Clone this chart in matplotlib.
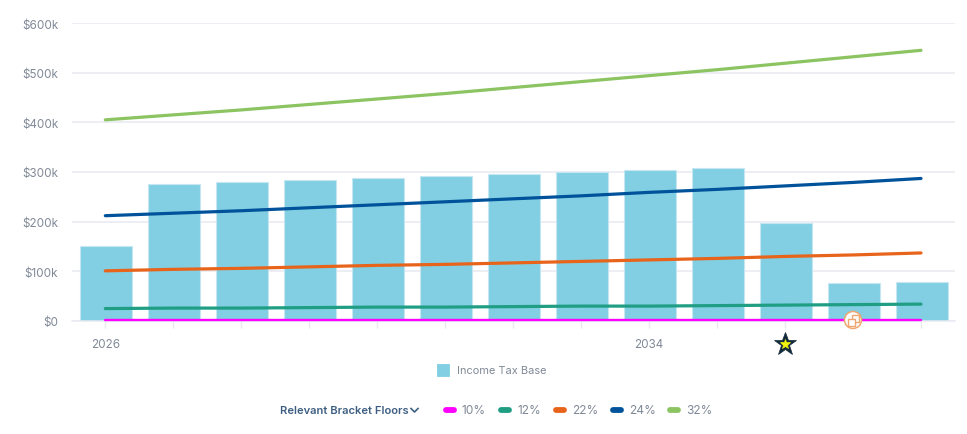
import matplotlib
matplotlib.use('Agg')
import matplotlib.pyplot as plt
from matplotlib.lines import Line2D
from matplotlib.patches import FancyBboxPatch, Circle, Rectangle

plt.rcParams['font.family'] = ['Inter', 'DejaVu Sans']

years = list(range(2026, 2039))
tax_base = [152, 275, 279, 283, 288, 292, 296, 301, 305, 309, 197, 76, 78]
floor_10 = [1.5, 1.5, 1.5, 1.5, 1.5, 1.5, 1.5, 1.5, 1.5, 1.5, 1.5, 1.5, 1.5]
floor_12 = [25, 26, 26, 27, 28, 28, 29, 30, 30, 31, 32, 33, 34]
floor_22 = [101, 104, 106, 109, 112, 114, 117, 120, 123, 126, 130, 133, 137]
floor_24 = [212, 217, 222, 228, 234, 240, 246, 252, 259, 265, 272, 279, 287]
floor_32 = [405, 415, 425, 436, 447, 458, 470, 482, 494, 506, 519, 532, 545]
y_ticks = [0, 100, 200, 300, 400, 500, 600]
y_labels = ['$0', '$100k', '$200k', '$300k', '$400k', '$500k', '$600k']
x_labels = {2026: '2026', 2034: '2034'}

series = [
    ('10%', floor_10, '#ff00ff', 1.7),
    ('12%', floor_12, '#1f9e84', 2.3),
    ('22%', floor_22, '#e8641b', 2.3),
    ('24%', floor_24, '#00539b', 2.3),
    ('32%', floor_32, '#8cc462', 2.3),
]

W, H = 967, 435
grey = '#808997'
fig = plt.figure(figsize=(W / 100, H / 100), dpi=100)
ax = fig.add_axes([72 / W, 1 - 322 / H, (955 - 72) / W, (322 - 24) / H])


def fx(x):
    return x / W


def fy(y):
    return 1 - y / H


ax.set_xlim(2025.51, 2038.5)
ax.set_ylim(0, 600)
ax.grid(axis='y', color='#e8eaf1', lw=1.1, zorder=0)
ax.set_axisbelow(True)
for s in ['top', 'left', 'right']:
    ax.spines[s].set_visible(False)
ax.spines['bottom'].set_color('#e8eaf1')
ax.spines['bottom'].set_linewidth(1.1)

# bars sit about a pixel right of the ticks in the original
ax.bar([y + 0.015 for y in years], tax_base, width=0.76, color='#82cfe3', edgecolor='#c4e7f1', lw=0.8, zorder=2)
for name, vals, col, lw in series:
    ax.plot(years, vals, color=col, lw=lw, solid_capstyle='round', zorder=3, clip_on=False)

ax.set_yticks(y_ticks)
ax.set_yticklabels(y_labels, color=grey, fontsize=8.4)
ax.set_xticks(years)
ax.set_xticklabels([x_labels.get(y, '') for y in years], color=grey, fontsize=8.4)
ax.tick_params(axis='y', length=0, pad=10)
ax.tick_params(axis='x', length=5, width=1, color='#e8eaf1', pad=7)

# legend for the bars
fig.add_artist(FancyBboxPatch((436.5 / W, fy(376.5)), 12 / W, 12 / H, boxstyle='square,pad=0',
                              transform=fig.transFigure, fc='#82cfe3', ec='#82cfe3', lw=0.6))
fig.text(fx(457), fy(370.5), 'Income Tax Base', color=grey, fontsize=7.9, va='center')

# legend for the lines
fig.text(fx(279.5), fy(411), 'Relevant Bracket Floors', color='#3f5f82', fontsize=8.05,
         fontweight='semibold', va='center')
fig.add_artist(Line2D([fx(411), fx(414.5), fx(418)], [fy(409.5), fy(413), fy(409.5)],
                      color='#3f5f82', lw=1.2))
legend_x = [444, 499.5, 554, 611, 668]
for (name, vals, col, lw), lx in zip(series, legend_x):
    fig.add_artist(Line2D([fx(lx + 1.5), fx(lx + 9.5)], [fy(411), fy(411)], color=col, lw=4.2,
                          solid_capstyle='round'))
    fig.text(fx(lx + 18), fy(411), name, color=grey, fontsize=8.6, va='center')

# star marker under the axis
fig.add_artist(Line2D([fx(784.5)], [fy(345)], marker='*', ms=17, mfc='#12293b', mec='#12293b', mew=0.5))
fig.add_artist(Line2D([fx(784.5)], [fy(345)], marker='*', ms=7, mfc='#f2f20a', mec='#f2f20a', mew=0.5))

# copy icon on the baseline
px = fig.dpi_scale_trans
orange = '#f0a76f'
fig.add_artist(Circle((853 / 100, (H - 321) / 100), 8.5 / 100, transform=px, fc='white', ec=orange, lw=1.1))
fig.add_artist(Rectangle((851.5 / 100, (H - 323) / 100), 7 / 100, 7 / 100, transform=px, fc='none', ec=orange, lw=1))
fig.add_artist(Rectangle((848 / 100, (H - 326.5) / 100), 7 / 100, 7 / 100, transform=px, fc='white', ec=orange, lw=1))

fig.savefig('out.png', dpi=100)
